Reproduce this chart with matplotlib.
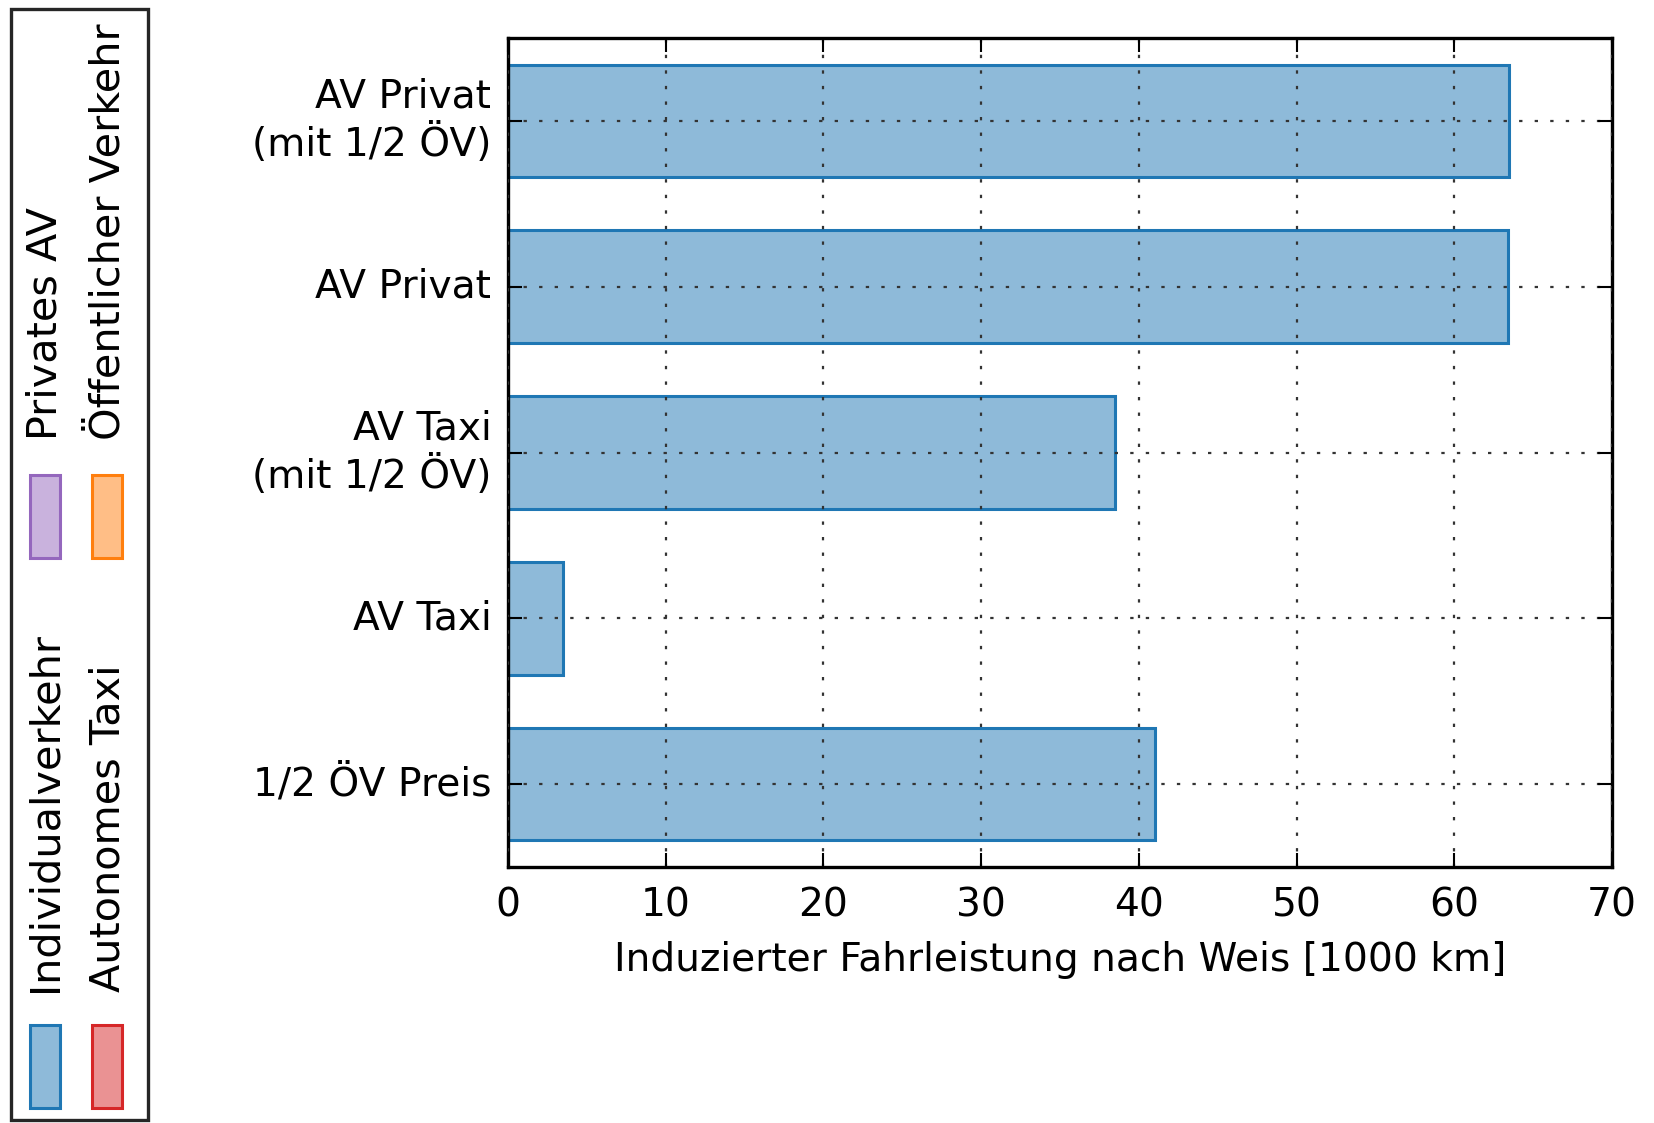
import matplotlib
matplotlib.use("Agg")
import matplotlib.pyplot as plt
from matplotlib.patches import Rectangle

# Induced mileage per scenario (1000 km)
scenarios = ["1/2 ÖV Preis", "AV Taxi", "AV Taxi\n(mit 1/2 ÖV)", "AV Privat", "AV Privat\n(mit 1/2 ÖV)"]
induced_km = [41.0, 3.5, 38.5, 63.4, 63.5]

legend_labels = ["Individualverkehr", "Privates AV", "Autonomes Taxi", "Öffentlicher Verkehr"]
legend_colors = ["#1f77b4", "#9467bd", "#d62728", "#ff7f0e"]

W, H = 1654, 1123
FS = 28.2
plt.rcParams["font.family"] = "DejaVu Sans"
plt.rcParams["font.size"] = FS

fig = plt.figure(figsize=(W / 100, H / 100), dpi=100, facecolor="white")
ax = fig.add_axes([508 / W, 1 - 867 / H, (1612 - 508) / W, (867 - 38) / H])

ax.barh(range(len(scenarios)), induced_km, height=0.68,
        color="#1f77b4", alpha=0.5, edgecolor="none", zorder=1)
ax.barh(range(len(scenarios)), induced_km, height=0.68,
        facecolor="none", edgecolor="#1f77b4", linewidth=2.2, zorder=1)

ax.set_xlim(0, 70)
ax.set_ylim(-0.5, len(scenarios) - 0.5)
ax.set_xticks(range(0, 71, 10))
ax.set_yticks(range(len(scenarios)))
ax.set_yticklabels(scenarios, ha="right", va="center", multialignment="right",
                   linespacing=1.22)
ax.set_xlabel("Induzierter Fahrleistung nach Weis [1000 km]", labelpad=12)

ax.set_axisbelow(False)
ax.grid(True, linestyle=(0, (1.5, 5.5)), color="0.2", linewidth=1.6, zorder=3)
ax.tick_params(direction="in", length=10, width=1.5, pad=12,
               top=True, right=True, labelsize=FS)
ax.tick_params(axis="x", pad=14)
for s in ax.spines.values():
    s.set_linewidth(2.4)

# Rotated legend on the left side, drawn in pixel coordinates
def fx(px):
    return px / W

def fy(py):
    return 1 - py / H

fig.patches.append(Rectangle((fx(11), fy(1120)), fx(148) - fx(11), fy(9) - fy(1120),
                             transform=fig.transFigure, facecolor="white",
                             edgecolor="0.15", linewidth=2.4))

cols_x = [30, 92]
rows = [(1023, 992), (473, 440)]  # (patch top, text start) in pixels
for i, (lab, col) in enumerate(zip(legend_labels, legend_colors)):
    cx = cols_x[i // 2]
    pb, tb = rows[i % 2]
    fig.patches.append(Rectangle((fx(cx), fy(pb + 85)), fx(30), 83 / H,
                                 transform=fig.transFigure, facecolor=col,
                                 alpha=0.5, edgecolor="none"))
    fig.patches.append(Rectangle((fx(cx), fy(pb + 85)), fx(30), 83 / H,
                                 transform=fig.transFigure, facecolor="none",
                                 edgecolor=col, linewidth=2.2))
    fig.text(fx(cx + 16), fy(tb), lab, rotation=90, ha="center", va="bottom",
             fontsize=29.8)

fig.savefig("out.png", dpi=100, facecolor="white")
